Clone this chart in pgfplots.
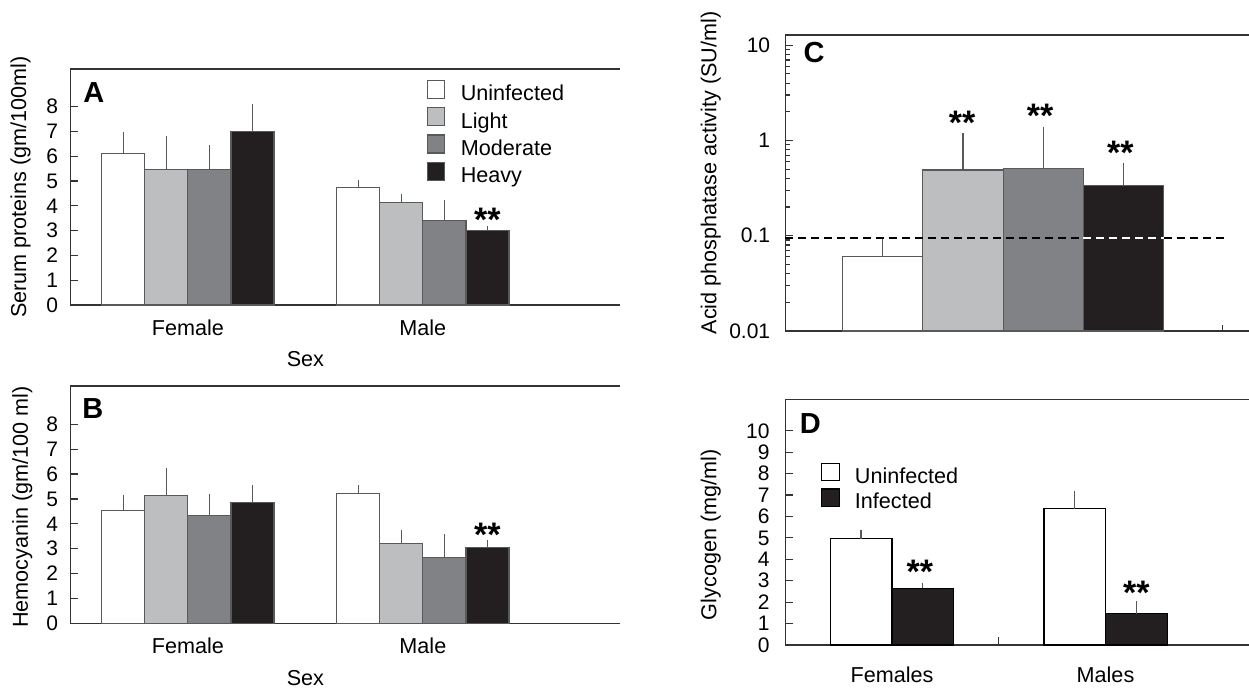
\documentclass[border=0pt]{standalone}
\usepackage{fontspec}
\setmainfont{Liberation Sans}
\usepackage{pgfplots}
\pgfplotsset{compat=1.18}

\definecolor{cL}{HTML}{BCBEC0}
\definecolor{cM}{HTML}{808285}
\definecolor{cH}{HTML}{231F20}
\definecolor{edge}{HTML}{58595B}
\definecolor{axln}{HTML}{333333}

\tikzset{
  stars/.style={anchor=north, inner sep=0pt, font=\bfseries\fontsize{17}{17}\selectfont},
  letter/.style={anchor=north west, inner sep=0pt, font=\bfseries\fontsize{14.5}{14.5}\selectfont},
}

% one picture px = 0.5pt
\pgfplotsset{
  panel/.style={
    scale only axis, anchor=south west,
    axis lines=left,
    axis line style={-, axln, line width=0.65pt},
    tick align=inside,
    tick style={axln, line width=0.6pt},
    major tick length=3.75pt, minor tick length=2.5pt,
    clip=false,
    font=\fontsize{10.8}{12}\selectfont,
    yticklabel style={font=\fontsize{10.5}{11}\selectfont},
    xticklabel style={font=\fontsize{10.8}{12}\selectfont},
    /pgf/number format/assume math mode=true,
    legend cell align=left,
  },
  errs/.style={
    /pgfplots/error bars/y dir=plus,
    /pgfplots/error bars/y explicit,
    /pgfplots/error bars/error mark=none,
    /pgfplots/error bars/error bar style={edge, line width=0.7pt}},
  sqA/.style={/pgfplots/legend image code/.code={\draw[##1] (0pt,-1.5pt) rectangle (8.5pt,7.5pt);}},
  sqD/.style={/pgfplots/legend image code/.code={\draw[##1] (0pt,-1.6pt) rectangle (9pt,7.2pt);}},
  barU/.style={fill=white, draw=edge, line width=0.6pt},
  barL/.style={fill=cL, draw=edge, line width=0.6pt},
  barM/.style={fill=cM, draw=edge, line width=0.6pt},
  barH/.style={fill=cH, draw=edge, line width=0.6pt},
}

\begin{document}
\begin{tikzpicture}
\useasboundingbox (0,0) rectangle (624.5pt,343.5pt);

% ---------------- A ----------------
\begin{axis}[panel, at={(35.2pt,191pt)}, width=274.8pt, height=118pt,
  ybar=0pt, bar width=0.1834,
  xmin=-0.5, xmax=1.839, ymin=0, ymax=9.52,
  ytick={0,...,8}, yticklabel style={xshift=-2.6pt},
  xtick={0,1}, xticklabels={Female,Male}, xtick style={draw=none},
  xticklabel style={yshift=0pt},
  xlabel={Sex}, xlabel style={at={(axis description cs:0.4276,0)}, anchor=north, inner sep=0pt, yshift=-22.8pt},
  ylabel={Serum proteins (gm/100ml)}, ylabel style={at={(axis description cs:-0.0908,0.5)}, anchor=center},
  legend style={draw=none, fill=none, at={(0.6485,0.955)}, anchor=north west, inner sep=0pt,
    row sep=0.9pt, nodes={inner sep=0pt, text height=7.6pt, text depth=2.2pt},
    /tikz/every odd column/.append style={column sep=7.7pt}},
]
\addplot[barU, sqA, errs] coordinates {(0,6.10) +- (0,0.86) (1,4.73) +- (0,0.30)};
\addlegendentry{Uninfected}
\addplot[barL, sqA, errs] coordinates {(0,5.47) +- (0,1.33) (1,4.14) +- (0,0.32)};
\addlegendentry{Light}
\addplot[barM, sqA, errs] coordinates {(0,5.47) +- (0,0.97) (1,3.40) +- (0,0.82)};
\addlegendentry{Moderate}
\addplot[barH, sqA, errs] coordinates {(0,6.99) +- (0,1.13) (1,3.01) +- (0,0.18)};
\addlegendentry{Heavy}
\draw[axln, line width=0.65pt] (rel axis cs:0,1) -- (rel axis cs:1,1);
\node[letter] at (rel axis cs:0.0227,0.945) {A};
\node[stars] at (axis cs:1.275,3.91) {**};
\end{axis}

% ---------------- B ----------------
\begin{axis}[panel, at={(35.2pt,31.85pt)}, width=274.8pt, height=118.65pt,
  ybar=0pt, bar width=0.1834,
  xmin=-0.5, xmax=1.839, ymin=0, ymax=9.54,
  ytick={0,...,8}, yticklabel style={xshift=-2.6pt},
  xtick={0,1}, xticklabels={Female,Male}, xtick style={draw=none},
  xticklabel style={yshift=0pt},
  xlabel={Sex}, xlabel style={at={(axis description cs:0.4276,0)}, anchor=north, inner sep=0pt, yshift=-23.3pt},
  ylabel={Hemocyanin (gm/100 ml)}, ylabel style={at={(axis description cs:-0.0875,0.49)}, anchor=center},
]
\addplot[barU, errs] coordinates {(0,4.53) +- (0,0.63) (1,5.21) +- (0,0.35)};
\addplot[barL, errs] coordinates {(0,5.13) +- (0,1.10) (1,3.22) +- (0,0.53)};
\addplot[barM, errs] coordinates {(0,4.34) +- (0,0.86) (1,2.64) +- (0,0.93)};
\addplot[barH, errs] coordinates {(0,4.87) +- (0,0.68) (1,3.06) +- (0,0.29)};
\draw[axln, line width=0.65pt] (rel axis cs:0,1) -- (rel axis cs:1,1);
\node[letter] at (rel axis cs:0.0211,0.949) {B};
\node[stars] at (axis cs:1.275,4.04) {**};
\end{axis}

% ---------------- C ----------------
\begin{axis}[panel, at={(392.6pt,178pt)}, width=231.9pt, height=148pt,
  ybar=0pt, bar width=1,
  ymode=log, log origin=infty,
  xmin=-2.714, xmax=3.062, ymin=0.01, ymax=12.8,
  ytick={0.01,0.1,1,10}, yticklabels={0.01,0.1,1,10}, yticklabel style={xshift=-4pt},
  minor ytick={0.02,0.03,0.04,0.05,0.06,0.07,0.08,0.09,0.2,0.3,0.4,0.5,0.6,0.7,0.8,0.9,2,3,4,5,6,7,8,9},
  xtick=\empty,
  ylabel={Acid phosphatase activity (SU/ml)}, ylabel style={at={(axis description cs:-0.1604,0.534)}, anchor=center},
]
\addplot[barU, errs, bar shift=0pt] coordinates {(-1.5,0.061) +- (0,0.034)};
\addplot[barL, errs, bar shift=0pt] coordinates {(-0.5,0.489) +- (0,0.711)};
\addplot[barM, errs, bar shift=0pt] coordinates {(0.5,0.509) +- (0,0.871)};
\addplot[barH, errs, bar shift=0pt] coordinates {(1.5,0.340) +- (0,0.235)};
\addplot[sharp plot, black, line width=1pt, dash pattern=on 4pt off 2.5pt, forget plot]
  coordinates {(-2.714,0.095) (1.0,0.095)};
\addplot[sharp plot, white, line width=1pt, dash pattern=on 4pt off 2.5pt, forget plot]
  coordinates {(1.0,0.095) (2.0,0.095)};
\addplot[sharp plot, black, line width=1pt, dash pattern=on 4pt off 2.5pt, forget plot]
  coordinates {(2.0,0.095) (2.776,0.095)};
\draw[axln, line width=0.65pt] (rel axis cs:0,1) -- (rel axis cs:1,1);
\draw[axln, line width=0.6pt] (axis cs:2.735,0.01) -- ([yshift=3pt]axis cs:2.735,0.01);
\node[letter] at (rel axis cs:0.039,0.976) {C};
\node[stars] at (axis cs:-0.51,2.03) {**};
\node[stars] at (axis cs:0.46,2.45) {**};
\node[stars] at (axis cs:1.46,0.99) {**};
\end{axis}

% ---------------- D ----------------
\begin{axis}[panel, at={(392.6pt,21pt)}, width=231.9pt, height=122.85pt,
  ybar=0pt, bar width=0.2885,
  xmin=-0.5, xmax=1.672, ymin=0, ymax=11.47,
  ytick={0,...,10}, yticklabel style={xshift=-4.3pt},
  xtick={0,1}, xticklabels={Females,Males}, xtick style={draw=none},
  xticklabel style={yshift=-3.5pt},
  ylabel={Glycogen (mg/ml)}, ylabel style={at={(axis description cs:-0.1604,0.448)}, anchor=center},
  legend style={draw=none, fill=none, at={(0.0768,0.744)}, anchor=north west, inner sep=0pt,
    row sep=0.45pt, nodes={inner sep=0pt, text height=7.6pt, text depth=2.2pt},
    /tikz/every odd column/.append style={column sep=7.25pt}},
]
\addplot[barU, draw=black, sqD, errs] coordinates {(0,4.96) +- (0,0.41) (1,6.36) +- (0,0.84)};
\addlegendentry{Uninfected}
\addplot[barH, draw=black, sqD, errs] coordinates {(0,2.64) +- (0,0.25) (1,1.46) +- (0,0.58)};
\addlegendentry{Infected}
\draw[axln, line width=0.65pt] (rel axis cs:0,1) -- (rel axis cs:1,1);
\draw[axln, line width=0.6pt] (axis cs:0.5,0) -- ([yshift=3.8pt]axis cs:0.5,0);
\node[letter] at (rel axis cs:0.031,0.944) {D};
\node[stars] at (axis cs:0.131,3.97) {**};
\node[stars] at (axis cs:1.144,3.0) {**};
\end{axis}
\end{tikzpicture}
\end{document}
